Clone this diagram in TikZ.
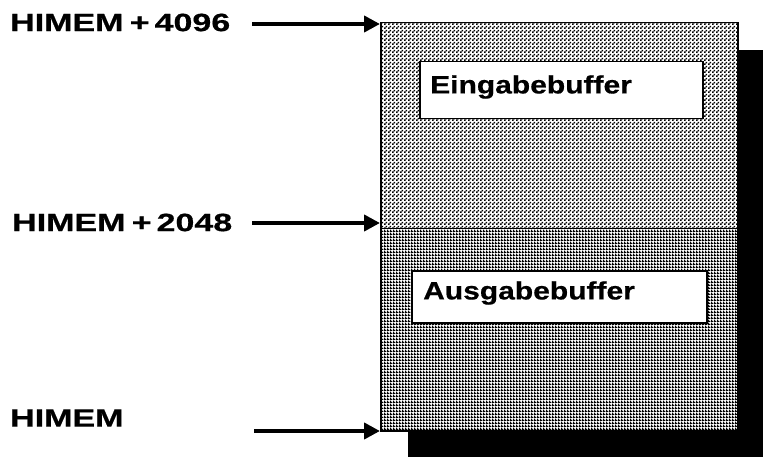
\documentclass[tikz,border=0pt]{standalone}
\usepackage{fontspec}
\setmainfont{Liberation Sans}
\newfontfamily\labfont[FakeStretch=1.36,FakeBold=0.6]{Liberation Sans}
\newfontfamily\buffont[FakeStretch=1.2,FakeBold=0.6]{Liberation Sans}
\usetikzlibrary{arrows.meta,patterns}
\pgfdeclarepatternformonly{memdots}{\pgfqpoint{0pt}{0pt}}{\pgfqpoint{4pt}{4pt}}{\pgfqpoint{4pt}{4pt}}{%
  \pgfpathrectangle{\pgfqpoint{0pt}{0pt}}{\pgfqpoint{1.9pt}{1.9pt}}%
  \pgfpathrectangle{\pgfqpoint{2pt}{2pt}}{\pgfqpoint{1.9pt}{1.9pt}}%
  \pgfusepath{fill}}
\pgfdeclarepatternformonly{memgrid}{\pgfqpoint{0pt}{0pt}}{\pgfqpoint{3pt}{3pt}}{\pgfqpoint{3pt}{3pt}}{%
  \pgfpathrectangle{\pgfqpoint{0pt}{0pt}}{\pgfqpoint{3pt}{1.4pt}}%
  \pgfpathrectangle{\pgfqpoint{0pt}{0pt}}{\pgfqpoint{1.4pt}{3pt}}%
  \pgfusepath{fill}}
\begin{document}
\begin{tikzpicture}[x=1pt,y=-1pt,
  lab/.style={anchor=west,inner sep=0pt,font=\fontsize{25}{28}\selectfont\labfont\bfseries},
  buftxt/.style={anchor=west,inner sep=0pt,font=\fontsize{25}{28}\selectfont\buffont\bfseries},
  buf/.style={draw,line width=1.5pt,fill=white,anchor=north west,inner sep=0pt},
  region/.style={draw,line width=1.5pt,fill=white,anchor=north west,inner sep=0pt,minimum width=357pt},
  ptr/.style={line width=4pt,-{Triangle[length=16pt,width=16pt]}}]
\useasboundingbox (0,0) rectangle (763,457);
% shadow
\fill[black] (408,50) rectangle (763,457);
% regions
\node[region,minimum height=206pt,postaction={pattern=memdots}] (upper) at (380,22) {};
\node[region,minimum height=202pt,postaction={pattern=memgrid}] (lower) at (380,228) {};
% buffers
\node[buf,minimum width=283pt,minimum height=57pt] (ein) at (419,61) {};
\node[buftxt] (eintxt) at (430,87) {Eingabebuffer};
\node[buf,minimum width=295pt,minimum height=52pt] (aus) at (411,270) {};
\node[buftxt] (austxt) at (423,293) {Ausgabebuffer};
% labels
\node[lab] (l1) at (10,22.5) {HIMEM\hspace{0.25em}+\hspace{0.2em}4096};
\node[lab] (l2) at (12,222.5) {HIMEM\hspace{0.25em}+\hspace{0.2em}2048};
\node[lab] (l3) at (10,418) {HIMEM};
% arrow targets
\coordinate (s1) at (252,24);
\coordinate (s2) at (252,223);
\coordinate (s3) at (254,431);
\coordinate (t1) at (upper.north west |- s1);
\coordinate (t2) at (upper.north west |- s2);
\coordinate (t3) at (lower.south west |- s3);
\draw[ptr] (s1) -- (t1);
\draw[ptr] (s2) -- (t2);
\draw[ptr] (s3) -- (t3);
\end{tikzpicture}
\end{document}
